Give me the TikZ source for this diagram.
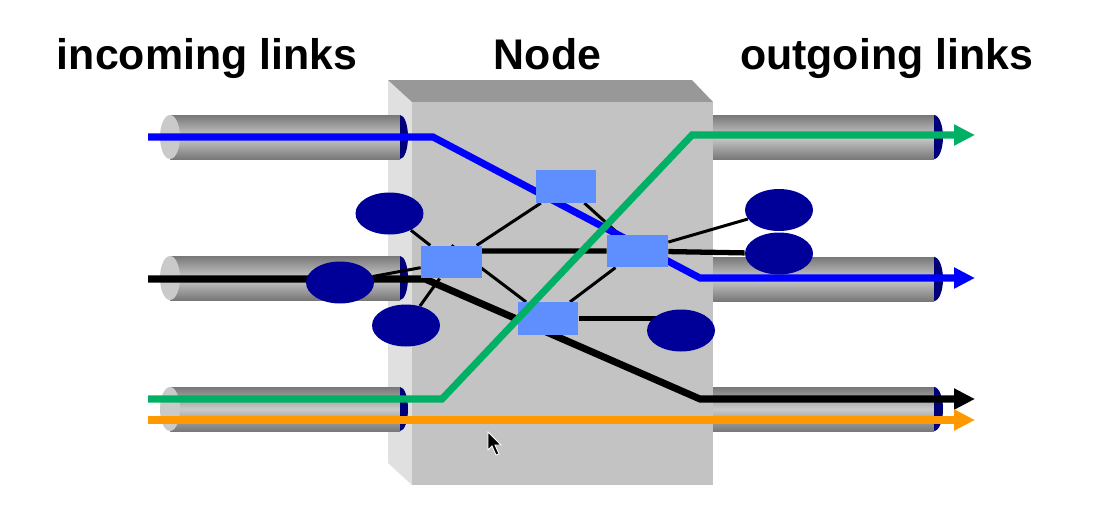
\documentclass[tikz,border=0pt]{standalone}
\usepackage{fontspec}
\setmainfont{Liberation Sans}
\usetikzlibrary{arrows.meta,shapes.geometric}

\definecolor{sqblue}{RGB}{95,143,255}
\definecolor{ovblue}{RGB}{0,0,153}
\definecolor{capblue}{RGB}{0,0,120}
\definecolor{lnblue}{RGB}{0,0,255}
\definecolor{lngreen}{RGB}{0,176,100}
\definecolor{lnorange}{RGB}{255,153,0}
\definecolor{boxfront}{RGB}{195,195,195}
\definecolor{boxtop}{RGB}{152,152,152}
\definecolor{boxside}{RGB}{224,224,224}
\definecolor{pipedark}{RGB}{120,120,120}
\definecolor{pipelight}{RGB}{202,202,202}

\pgfdeclarelayer{back}
\pgfdeclarelayer{wires}
\pgfdeclarelayer{front}
\pgfsetlayers{back,wires,main,front}

\begin{document}
\begin{tikzpicture}[x=0.02cm,y=-0.02cm,
  sq/.style={rectangle,fill=sqblue,minimum width=1.22cm,minimum height=0.65cm,inner sep=0pt},
  ov/.style={ellipse,fill=ovblue,minimum width=1.36cm,minimum height=0.84cm,inner sep=0pt},
  link/.style={line width=4pt,-{Triangle[length=0.42cm,width=0.4cm]}},
  wire/.style={line width=1.7pt},
  midwire/.style={line width=3pt},
  title/.style={font=\bfseries\fontsize{24.4}{29}\selectfont,anchor=base,inner sep=0pt}]

\useasboundingbox (0,0) rectangle (1096,505);

\node[title] (tin) at (207,69) {incoming links};
\node[title] (tnode) at (547.5,69) {Node};
\node[title] (tout) at (886.5,69) {outgoing links};

% switches and ports
\node[sq] (T) at (566,186.5) {};
\node[sq] (L) at (451.5,262) {};
\node[sq] (R) at (637.5,251) {};
\node[sq] (B) at (548,318.5) {};

\node[ov] (e1) at (389.5,213.5) {};
\node[ov] (e2) at (340,282.5) {};
\node[ov] (e3) at (406,325.5) {};
\node[ov] (e4) at (779,210) {};
\node[ov] (e5) at (779,253.5) {};
\node[ov] (e6) at (681,330.5) {};

% link ends and bends
\coordinate (bIn) at (148,137);
\coordinate (bA) at (433,137);
\coordinate (bB) at (700,278);
\coordinate (bOut) at (975,278);

\coordinate (kIn) at (148,279);
\coordinate (kA) at (425,279);
\coordinate (kB) at (700,399);
\coordinate (kOut) at (975,399);

\coordinate (gIn) at (148,399);
\coordinate (gA) at (442,399);
\coordinate (gB) at (692,135);
\coordinate (gOut) at (975,135);

\coordinate (oIn) at (148,420);
\coordinate (oOut) at (975,420);

\begin{pgfonlayer}{back}
% the box
\fill[boxside] (388,80) -- (412,102) -- (412,485) -- (388,463) -- cycle;
\fill[boxtop] (388,80) -- (692,80) -- (713,102) -- (412,102) -- cycle;
\fill[boxfront] (412,102) rectangle (713,485);

% pipes
\foreach \y in {137,278,409} {
  \shade[top color=pipedark,bottom color=pipedark,middle color=pipelight] (170,\y-22) rectangle (400,\y+22);
  \fill[pipelight] (170,\y) ellipse[x radius=0.2cm,y radius=0.44cm];
  \fill[capblue] (400,\y-22) arc[start angle=90,end angle=-90,x radius=0.16cm,y radius=0.44cm] -- cycle;
}
\foreach \y in {137,279,409} {
  \shade[top color=pipedark,bottom color=pipedark,middle color=pipelight] (713,\y-22) rectangle (934,\y+22);
  \fill[capblue] (934,\y-22) arc[start angle=90,end angle=-90,x radius=0.18cm,y radius=0.44cm] -- cycle;
}
\end{pgfonlayer}

\begin{pgfonlayer}{wires}
\draw[wire] (e1) -- (L);
\draw[wire] (e2) -- (L);
\draw[wire] (e3) -- (L);
\draw[wire] (L) -- (T);
\draw[wire] (L.north) -- (B);
\draw[wire] (T) -- (R);
\draw[wire] (B) -- (R);
\draw[wire] (R) -- (e4);
\draw[midwire] (L.center |- R) -- (R) -- (e5);
\draw[midwire] (B) -- (B -| e6);

\draw[link,lnblue] (bIn) -- (bA) -- (bB) -- (bOut);
\draw[link,black] (kIn) -- (kA) -- (kB) -- (kOut);
\draw[link,lnorange] (oIn) -- (oOut);
\end{pgfonlayer}

\begin{pgfonlayer}{front}
\draw[link,lngreen] (gIn) -- (gA) -- (gB) -- (gOut);

% mouse pointer
\fill[black,draw=white,line width=0.5pt] (488,432) -- (488,450) -- (492,446) -- (496,455) -- (499,454) -- (495,445) -- (501,445) -- cycle;
\end{pgfonlayer}

\end{tikzpicture}
\end{document}
